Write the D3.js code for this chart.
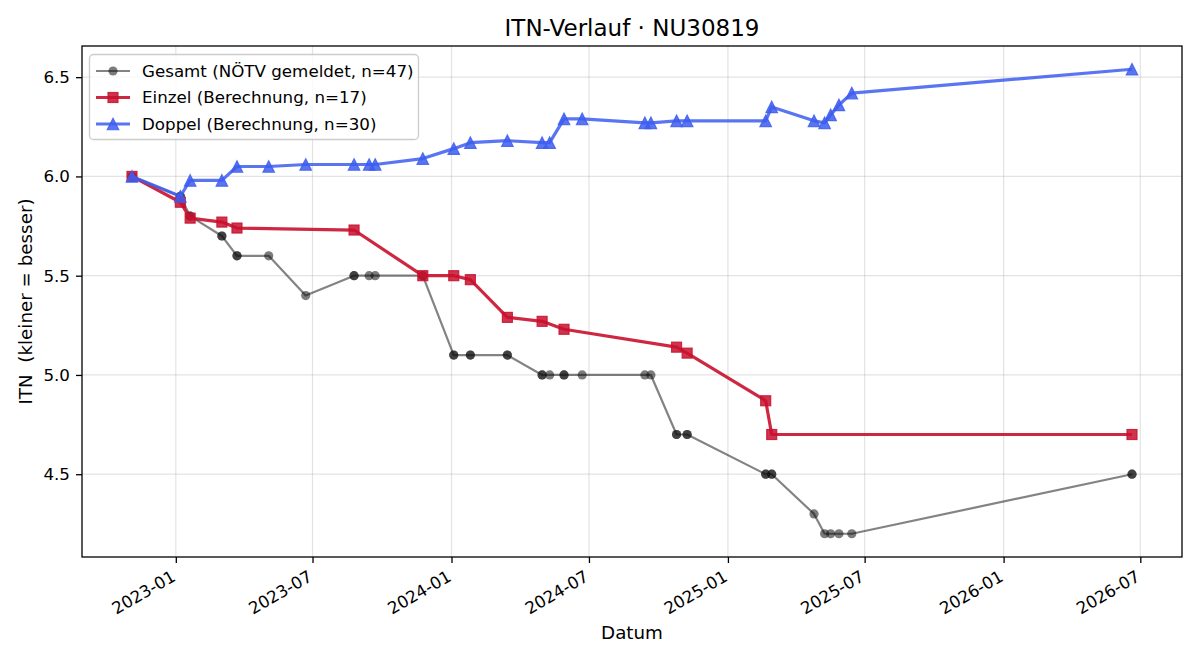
<!DOCTYPE html>
<html lang="de">
<head>
<meta charset="UTF-8">
<title>ITN-Verlauf</title>
<script src="https://cdn.jsdelivr.net/npm/d3@7"></script>
<style>
    body { margin: 0; background: #fff; }
    svg text { font-family: "DejaVu Sans", sans-serif; fill: #000; }
</style>
</head>
<body>
<div id="chart"></div>
<script>
// Doppel (Berechnung) - alle Termine
const doppelDates = ["2022-11-04","2023-01-07","2023-01-20","2023-03-03","2023-03-23","2023-05-04",
    "2023-06-22","2023-08-25","2023-09-14","2023-09-22","2023-11-24","2024-01-04","2024-01-26",
    "2024-03-15","2024-04-30","2024-05-10","2024-05-29","2024-06-22","2024-09-13","2024-09-21",
    "2024-10-25","2024-11-08","2025-02-20","2025-02-28","2025-04-25","2025-05-09","2025-05-17",
    "2025-05-28","2025-06-14","2026-06-20"];
const doppelValues = [6.0, 5.90, 5.98, 5.98, 6.05, 6.05, 6.06, 6.06, 6.06, 6.06, 6.09, 6.14, 6.17,
    6.18, 6.17, 6.17, 6.29, 6.29, 6.27, 6.27, 6.28, 6.28, 6.28, 6.35, 6.28, 6.27, 6.31, 6.36, 6.42, 6.54];

// Einzel (Berechnung)
const einzelDates = ["2022-11-04","2023-01-07","2023-01-20","2023-03-03","2023-03-23","2023-08-25",
    "2023-11-24","2024-01-04","2024-01-26","2024-03-15","2024-04-30","2024-05-29","2024-10-25",
    "2024-11-08","2025-02-20","2025-02-28","2026-06-20"];
const einzelValues = [6.0, 5.87, 5.79, 5.77, 5.74, 5.73, 5.50, 5.50, 5.48, 5.29, 5.27, 5.23, 5.14,
    5.11, 4.87, 4.70, 4.70];

// Gesamt (NÖTV gemeldet) - 47 Meldungen, doppelte Termine bei Einzel+Doppel
const gesamtDates = ["2022-11-04","2022-11-04","2023-01-07","2023-01-07","2023-01-20","2023-01-20",
    "2023-03-03","2023-03-03","2023-03-23","2023-03-23","2023-05-04","2023-06-22","2023-08-25",
    "2023-08-25","2023-09-14","2023-09-22","2023-11-24","2023-11-24","2024-01-04","2024-01-04",
    "2024-01-26","2024-01-26","2024-03-15","2024-03-15","2024-04-30","2024-04-30","2024-05-10",
    "2024-05-29","2024-05-29","2024-06-22","2024-09-13","2024-09-21","2024-10-25","2024-10-25",
    "2024-11-08","2024-11-08","2025-02-20","2025-02-20","2025-02-28","2025-02-28","2025-04-25",
    "2025-05-09","2025-05-17","2025-05-28","2025-06-14","2026-06-20","2026-06-20"];
const gesamtValues = [6.0, 6.0, 5.9, 5.9, 5.8, 5.8, 5.7, 5.7, 5.6, 5.6, 5.6, 5.4, 5.5, 5.5, 5.5, 5.5,
    5.5, 5.5, 5.1, 5.1, 5.1, 5.1, 5.1, 5.1, 5.0, 5.0, 5.0, 5.0, 5.0, 5.0, 5.0, 5.0, 4.7, 4.7, 4.7, 4.7,
    4.5, 4.5, 4.5, 4.5, 4.3, 4.2, 4.2, 4.2, 4.2, 4.5, 4.5];

const yTicks = [4.5, 5.0, 5.5, 6.0, 6.5];
const seriesLabels = ["Gesamt (NÖTV gemeldet, n=47)", "Einzel (Berechnung, n=17)", "Doppel (Berechnung, n=30)"];

const width = 1200, height = 660;
const margin = {top: 46, right: 18, bottom: 103, left: 82};
const parse = d3.timeParse("%Y-%m-%d");

const zip = (ds, vs) => ds.map((d, i) => ({date: parse(d), value: vs[i]}));
const gesamt = zip(gesamtDates, gesamtValues);
const einzel = zip(einzelDates, einzelValues);
const doppel = zip(doppelDates, doppelValues);
const all = gesamt.concat(einzel, doppel);

const svg = d3.select("#chart").append("svg")
    .attr("width", width).attr("height", height);

// 5% Rand wie matplotlib
const xExt = d3.extent(all, d => +d.date);
const xPad = (xExt[1] - xExt[0]) * 0.05;
const yExt = d3.extent(all, d => d.value);
const yPad = (yExt[1] - yExt[0]) * 0.05;

const x = d3.scaleTime()
    .domain([new Date(xExt[0] - xPad), new Date(xExt[1] + xPad)])
    .range([margin.left, width - margin.right]);
const y = d3.scaleLinear()
    .domain([yExt[0] - yPad, yExt[1] + yPad])
    .range([height - margin.bottom, margin.top]);

const xTicks = x.ticks(d3.timeMonth.every(6));
const x0 = margin.left, x1 = width - margin.right;
const y0 = height - margin.bottom, y1 = margin.top;

// Gitter
const grid = svg.append("g").attr("stroke", "#b0b0b0").attr("stroke-opacity", 0.35).attr("stroke-width", 1.2);
grid.selectAll(".gx").data(xTicks).enter().append("line")
    .attr("x1", d => x(d)).attr("x2", d => x(d)).attr("y1", y0).attr("y2", y1);
grid.selectAll(".gy").data(yTicks).enter().append("line")
    .attr("x1", x0).attr("x2", x1).attr("y1", d => y(d)).attr("y2", d => y(d));

// Achsen
const xAxis = svg.append("g")
    .attr("transform", `translate(0,${y0})`)
    .call(d3.axisBottom(x).tickValues(xTicks).tickFormat(d3.timeFormat("%Y-%m")).tickSize(6).tickPadding(6));
xAxis.select(".domain").remove();
xAxis.selectAll(".tick line").attr("stroke", "#000").attr("stroke-width", 1.3);
xAxis.selectAll(".tick text")
    .style("font-size", "16.7px")
    .attr("text-anchor", "end")
    .attr("y", 0).attr("dy", "0.76em")
    .attr("transform", "translate(-6,12) rotate(-30)");

const yAxis = svg.append("g")
    .attr("transform", `translate(${x0},0)`)
    .call(d3.axisLeft(y).tickValues(yTicks).tickFormat(d3.format(".1f")).tickSize(6).tickPadding(6));
yAxis.select(".domain").remove();
yAxis.selectAll(".tick line").attr("stroke", "#000").attr("stroke-width", 1.3);
yAxis.selectAll(".tick text").style("font-size", "16.7px");

svg.append("rect")
    .attr("x", x0).attr("y", y1).attr("width", x1 - x0).attr("height", y0 - y1)
    .attr("fill", "none").attr("stroke", "#000").attr("stroke-width", 1.3);

// Linien
const line = d3.line().x(d => x(d.date)).y(d => y(d.value));

const sq = 10, tri = 11.5;
const trianglePath = `M0,${-tri / 2}L${tri / 2},${tri / 2}L${-tri / 2},${tri / 2}Z`;

function drawSeries(data, cfg) {
    const g = svg.append("g");
    g.append("path").datum(data)
        .attr("d", line)
        .attr("fill", "none")
        .attr("stroke", cfg.color)
        .attr("stroke-opacity", cfg.alpha)
        .attr("stroke-width", cfg.lw)
        .attr("stroke-linejoin", "round");
    const m = g.selectAll(".m").data(data).enter();
    if (cfg.marker === "circle") {
        m.append("circle").attr("cx", d => x(d.date)).attr("cy", d => y(d.value)).attr("r", 4.6)
            .attr("fill", cfg.color).attr("fill-opacity", cfg.mAlpha);
    } else if (cfg.marker === "square") {
        m.append("rect").attr("x", d => x(d.date) - sq / 2).attr("y", d => y(d.value) - sq / 2)
            .attr("width", sq).attr("height", sq)
            .attr("fill", cfg.color).attr("fill-opacity", cfg.mAlpha)
            .attr("stroke", cfg.color).attr("stroke-opacity", cfg.mAlpha).attr("stroke-width", 1.2);
    } else {
        m.append("path").attr("d", trianglePath)
            .attr("transform", d => `translate(${x(d.date)},${y(d.value)})`)
            .attr("fill", cfg.color).attr("fill-opacity", cfg.mAlpha)
            .attr("stroke", cfg.color).attr("stroke-opacity", cfg.mAlpha).attr("stroke-width", 1.2);
    }
}

const styles = [
    {color: "#111111", alpha: 0.52, mAlpha: 0.55, lw: 2.2, marker: "circle"},
    {color: "#c8102e", alpha: 0.9, mAlpha: 0.85, lw: 3.2, marker: "square"},
    {color: "#3d5df0", alpha: 0.85, mAlpha: 0.85, lw: 3.2, marker: "triangle"}
];
drawSeries(gesamt, styles[0]);
drawSeries(einzel, styles[1]);
drawSeries(doppel, styles[2]);

// Legende
const leg = svg.append("g");
leg.append("rect")
    .attr("x", 89.5).attr("y", 54.5).attr("width", 329).attr("height", 85).attr("rx", 4)
    .attr("fill", "#fff").attr("fill-opacity", 0.8)
    .attr("stroke", "#cccccc").attr("stroke-width", 1.3);
seriesLabels.forEach((lab, i) => {
    const cy = 71 + i * 26.5, s = styles[i];
    const row = leg.append("g");
    row.append("line").attr("x1", 96).attr("x2", 130).attr("y1", cy).attr("y2", cy)
        .attr("stroke", s.color).attr("stroke-opacity", s.alpha).attr("stroke-width", s.lw);
    if (s.marker === "circle") {
        row.append("circle").attr("cx", 113).attr("cy", cy).attr("r", 4.6)
            .attr("fill", s.color).attr("fill-opacity", s.mAlpha);
    } else if (s.marker === "square") {
        row.append("rect").attr("x", 113 - sq / 2).attr("y", cy - sq / 2).attr("width", sq).attr("height", sq)
            .attr("fill", s.color).attr("fill-opacity", s.mAlpha)
            .attr("stroke", s.color).attr("stroke-opacity", s.mAlpha).attr("stroke-width", 1.2);
    } else {
        row.append("path").attr("d", trianglePath).attr("transform", `translate(113,${cy})`)
            .attr("fill", s.color).attr("fill-opacity", s.mAlpha)
            .attr("stroke", s.color).attr("stroke-opacity", s.mAlpha).attr("stroke-width", 1.2);
    }
    row.append("text").attr("x", 142).attr("y", cy).attr("dy", "0.35em")
        .style("font-size", "16.7px").text(lab);
});

// Titel und Achsenbeschriftungen
svg.append("text")
    .attr("x", (x0 + x1) / 2).attr("y", 36)
    .attr("text-anchor", "middle").style("font-size", "23px")
    .text("ITN-Verlauf · NU30819");
svg.append("text")
    .attr("x", (x0 + x1) / 2).attr("y", 639)
    .attr("text-anchor", "middle").style("font-size", "18.3px")
    .text("Datum");
svg.append("text")
    .attr("transform", `translate(32,${(y0 + y1) / 2}) rotate(-90)`)
    .attr("text-anchor", "middle").style("font-size", "18.3px")
    .style("white-space", "pre")
    .text("ITN  (kleiner = besser)");
</script>
</body>
</html>
